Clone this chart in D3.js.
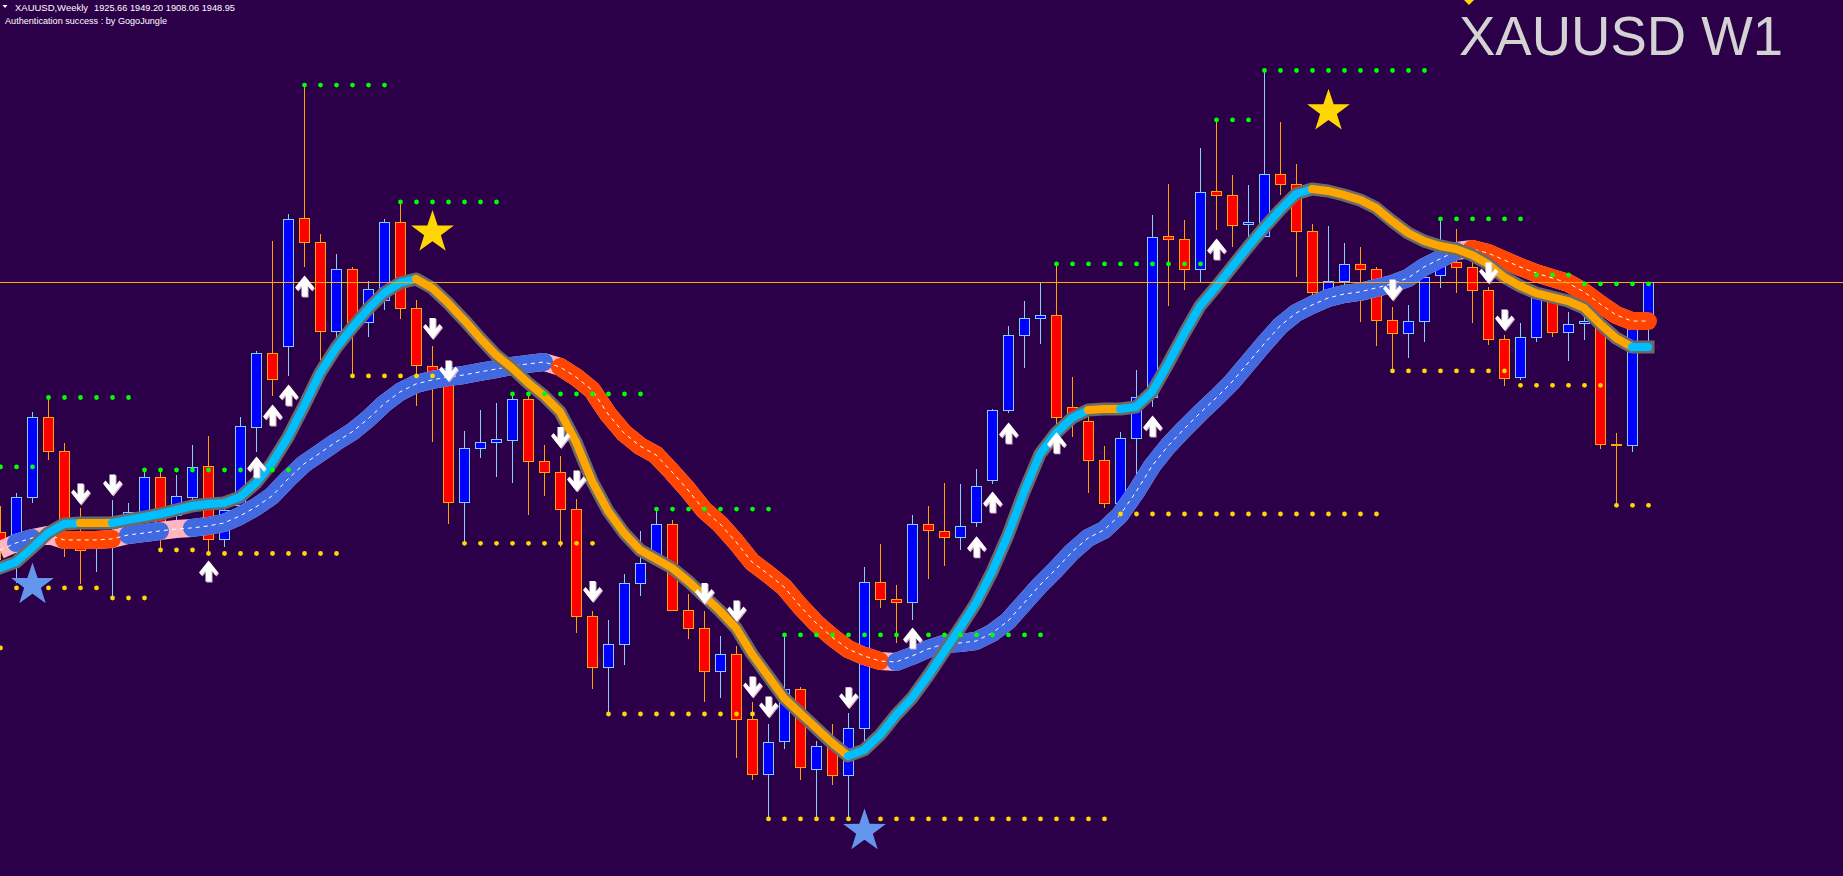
<!DOCTYPE html>
<html><head><meta charset="utf-8">
<script src="https://cdn.jsdelivr.net/npm/d3@7"></script>
<style>html,body{margin:0;padding:0;background:#2c0048;overflow:hidden}svg{display:block}</style>
</head><body>
<svg id="chart" width="1843" height="876"></svg>
<script>
// ---------- data ----------
const symbolTitle = "XAUUSD,Weekly";
const ohlcTitle = "1925.66 1949.20 1908.06 1948.95";
const authText = "Authentication success : by GogoJungle";
const bigTitle = "XAUUSD W1";
const bidPrice = 1948.95;

const opens = [1792.9,1787.9,1814.7,1864.7,1843.5,1789.7,1782.9,1784.7,1800.4,1805.4,
1827.2,1803.5,1814.7,1834.1,1788.5,1809.7,1858.5,1904.7,1909.1,1989.1,
1974.1,1918.5,1957.2,1924.1,1937.9,1986.6,1932.9,1896.6,1891.0,1811.6,
1845.4,1849.1,1850.4,1876.0,1837.2,1830.4,1807.2,1740.4,1708.5,1722.9,
1761.0,1773.5,1797.9,1744.1,1732.9,1706.0,1716.6,1676.0,1641.6,1662.2,
1694.7,1644.7,1658.5,1641.0,1670.4,1761.6,1751.0,1749.1,1797.9,1793.5,
1789.7,1799.1,1825.4,1869.1,1916.0,1926.6,1928.5,1871.0,1862.2,1837.9,
1811.0,1851.6,1877.2,1977.9,1976.0,1957.2,2006.0,2003.5,1985.4,1977.9,
2016.6,2010.4,1981.0,1942.9,1949.7,1960.4,1957.2,1925.4,1917.2,1924.7,
1953.5,1961.6,1958.5,1944.1,1913.5,1889.7,1914.7,1937.9,1917.9,1923.5,
1923.5,1847.9,1847.2,1925.66];
const highs = [1809.1,1817.2,1867.9,1877.2,1848.5,1807.9,1791.0,1812.9,1811.0,1831.6,
1830.4,1828.5,1847.2,1852.9,1812.9,1864.7,1906.0,1974.7,1991.6,2072.2,
1979.1,1966.6,1958.5,1949.7,1988.5,1998.5,1937.9,1909.1,1893.0,1856.0,
1869.1,1873.5,1879.1,1879.1,1847.2,1840.4,1813.5,1743.5,1737.9,1766.6,
1793.5,1807.2,1800.4,1754.1,1743.5,1727.9,1721.6,1686.6,1672.9,1728.5,
1696.0,1662.2,1672.9,1679.7,1771.0,1785.4,1759.7,1803.5,1809.1,1823.5,
1822.9,1832.2,1869.7,1921.6,1937.2,1949.1,1959.7,1889.7,1871.6,1846.6,
1855.4,1894.1,1991.0,2010.4,1987.9,2032.9,2050.4,2016.0,2009.7,2081.0,
2049.1,2022.9,1985.4,1984.1,1973.5,1971.0,1958.5,1933.5,1934.7,1956.6,
1989.1,1982.2,1972.2,1946.0,1916.0,1923.5,1944.1,1942.9,1930.4,1931.6,
1926.6,1854.7,1925.4,1949.20];
const lows = [1775.4,1761.0,1811.0,1837.9,1777.2,1760.4,1767.9,1751.6,1797.2,1800.4,
1781.6,1800.4,1809.7,1778.5,1783.5,1803.5,1842.9,1877.9,1890.4,1958.5,
1900.4,1913.5,1890.4,1914.7,1931.6,1926.0,1871.6,1849.1,1797.9,1785.4,
1839.1,1827.2,1823.5,1803.5,1815.4,1783.5,1729.7,1694.7,1679.1,1709.7,
1752.9,1771.6,1743.5,1726.0,1686.6,1689.1,1651.6,1637.9,1613.5,1657.2,
1637.9,1613.5,1634.7,1614.7,1661.6,1745.4,1723.5,1737.9,1763.5,1771.6,
1781.6,1796.0,1822.9,1867.2,1895.4,1910.4,1860.4,1852.2,1817.2,1807.9,
1805.4,1827.2,1871.0,1934.1,1944.1,1949.1,1981.6,1971.0,1975.4,1977.2,
2003.5,1952.2,1937.9,1934.7,1945.4,1924.1,1909.1,1893.5,1901.6,1911.6,
1945.4,1942.2,1923.5,1909.7,1884.1,1887.9,1911.6,1914.7,1899.7,1912.9,
1844.7,1809.7,1842.9,1908.06];
const closes = [1782.9,1814.7,1864.7,1843.5,1797.2,1781.6,1787.9,1794.1,1805.4,1827.2,
1794.1,1815.4,1833.5,1788.5,1806.6,1859.1,1904.7,1888.5,1988.5,1974.1,
1918.5,1957.2,1924.1,1944.7,1986.6,1932.9,1897.2,1891.0,1811.6,1845.4,
1849.1,1851.0,1876.0,1837.2,1830.4,1807.2,1740.4,1708.5,1722.9,1761.0,
1773.5,1797.9,1744.1,1732.9,1706.0,1716.6,1676.0,1641.6,1661.6,1694.7,
1646.0,1659.1,1641.0,1670.4,1761.6,1751.0,1749.1,1797.9,1794.1,1789.7,
1796.6,1821.6,1869.1,1916.0,1926.6,1928.5,1864.7,1866.0,1837.9,1811.0,
1851.6,1877.2,1977.2,1976.0,1957.2,2005.4,2003.5,1984.7,1986.6,2016.6,
2010.4,1981.0,1942.9,1949.7,1960.4,1957.2,1925.4,1917.2,1924.7,1952.2,
1961.6,1958.5,1944.1,1913.5,1889.1,1914.7,1939.7,1917.9,1922.9,1924.7,
1847.9,1847.2,1925.4,1948.95];

// fast trend line (cyan up / orange down)
const fastLine = [1770.4,1774.1,1782.9,1792.2,1797.9,1798.5,1798.5,1798.5,1800.4,1802.2,
1804.1,1806.6,1809.1,1810.4,1811.0,1814.7,1823.5,1836.0,1852.2,1871.6,
1892.2,1907.9,1920.4,1932.2,1942.2,1948.5,1951.0,1945.4,1936.0,1925.4,
1914.1,1903.5,1895.4,1886.0,1877.9,1867.9,1849.1,1824.7,1806.0,1792.2,
1781.6,1776.0,1770.4,1762.2,1752.9,1743.5,1732.9,1716.6,1702.9,1689.1,
1679.7,1670.4,1661.0,1652.9,1656.6,1666.0,1678.5,1689.1,1702.9,1717.9,
1732.9,1748.5,1767.9,1791.0,1817.9,1841.6,1854.7,1864.1,1869.1,1869.7,
1869.7,1871.0,1880.4,1897.9,1916.6,1934.1,1946.0,1958.5,1971.0,1982.9,
1994.1,2004.1,2007.2,2006.0,2003.5,2000.4,1995.4,1987.2,1979.7,1974.7,
1971.6,1969.7,1966.0,1960.4,1952.2,1946.6,1942.2,1939.7,1937.2,1932.9,
1922.9,1914.1,1908.5,1908.5];
// slow trend line (royal blue up / orange-red down)
const slowLine = [1781.6,1786.0,1789.1,1791.0,1787.9,1787.9,1787.9,1788.5,1791.0,1792.2,
1793.5,1794.7,1795.4,1796.6,1798.5,1802.9,1808.5,1815.4,1826.0,1835.4,
1842.2,1849.1,1855.4,1863.5,1872.9,1880.4,1885.4,1887.9,1889.7,1891.0,
1892.9,1894.7,1896.6,1897.9,1899.1,1896.0,1889.7,1881.6,1866.6,1854.7,
1846.6,1841.0,1830.4,1819.1,1806.6,1797.9,1786.6,1774.1,1766.6,1758.5,
1746.6,1736.0,1727.2,1719.7,1715.4,1712.2,1711.6,1715.4,1719.7,1722.9,
1723.5,1724.7,1729.7,1737.2,1748.5,1759.7,1769.7,1780.4,1789.1,1794.1,
1803.5,1817.9,1834.1,1846.6,1857.2,1867.2,1876.6,1886.6,1898.5,1910.4,
1921.6,1929.7,1934.7,1939.1,1941.6,1942.9,1945.4,1947.9,1951.6,1958.5,
1963.5,1968.5,1969.7,1967.2,1962.9,1958.5,1954.7,1951.6,1948.5,1942.9,
1935.4,1928.5,1924.7,1924.7];
// [fromBar, toBar, state] state: 1 up, -1 down
const fastRuns = [[0,5,1],[5,7,-1],[7,26,1],[26,53,-1],[53,68,1],[68,70,-1],[70,82,1],[82,102,-1],[102,103,1]];
const slowRuns = [[1,2,1],[4,7,-1],[8,10,1],[12,34,1],[35,55,-1],[56,91,1],[92,103,-1]];

// dotted levels [fromBar, toBar, price]
const resistanceLevels = [[0,2,1833.5],[3,8,1876.9],[9,18,1831.6],[19,24,2072.2],[25,31,1999.1],[32,40,1879.1],
  [41,48,1807.2],[49,65,1728.5],[66,75,1960.4],[76,78,2050.4],[79,89,2081.3],[90,95,1988.5],[96,98,1953.5],[99,103,1947.9]];
const supportLevels = [[0,0,1720.4],[1,6,1757.9],[7,9,1751.6],[10,12,1781.6],[13,21,1779.4],[22,27,1890.4],[29,37,1785.8],
  [38,47,1679.1],[48,69,1613.5],[70,86,1804.1],[87,94,1893.5],[95,100,1884.5],[101,103,1809.5]];

// signal arrows [bar, price]
const upArrows = [[13,1768.5],[16,1833.5],[17,1866.0],[18,1878.5],[19,1946.6],[57,1726.6],[61,1783.7],[62,1811.6],[63,1854.7],[66,1848.7],[72,1859.1],[76,1969.7]];
const downArrows = [[5,1816.6],[7,1822.2],[27,1920.0],[28,1893.5],[35,1851.9],[36,1824.7],[37,1755.7],[44,1754.4],[46,1743.5],[47,1696.0],[48,1683.5],[53,1689.3],[87,1944.1],[93,1954.7],[94,1925.4]];
// swing stars [bar, price]
const topStars = [[27,1980.0],[83,2055.8]];
const bottomStars = [[2,1759.7],[54,1606.0]];
const edgeMarks = [[92,2125.35]];

// ---------- drawing ----------
const W = 1843, H = 876;
const C = {bg:"#2c0048", bullBody:"#0000ff", bullEdge:"#87cefa", bearBody:"#ff0000", bearEdge:"#ffa500",
  fastUp:"#00bfff", fastDn:"#ffa500", fastOutline:"#6b6b6b", slowUp:"#4169e1", slowDn:"#ff4500", slowNeutral:"#ffb6c1",
  res:"#00ff00", sup:"#ffd700", starTop:"#ffd700", starBot:"#6495ed", bid:"#ffaa00", text:"#ffffff", big:"#d3d3d3"};

const svg = d3.select("#chart");
svg.append("rect").attr("width", W).attr("height", H).attr("fill", C.bg);

const x = d3.scaleLinear().domain([0, 103]).range([0, 1648]);
const y = d3.scaleLinear().domain([2125.35, 1577.85]).range([0, 876]);

const candles = opens.map((o, i) => ({i, o, h: highs[i], l: lows[i], c: closes[i], up: closes[i] >= o}));

// candles
const gC = svg.append("g").attr("shape-rendering", "crispEdges");
gC.selectAll("line").data(candles).join("line")
  .attr("x1", d => Math.round(x(d.i)) + 0.5).attr("x2", d => Math.round(x(d.i)) + 0.5)
  .attr("y1", d => Math.round(y(d.h))).attr("y2", d => Math.round(y(d.l)))
  .attr("stroke", d => d.up ? C.bullEdge : C.bearEdge).attr("stroke-width", 1);
gC.selectAll("rect").data(candles).join("rect")
  .attr("x", d => Math.round(x(d.i)) - 4.5).attr("width", 10)
  .attr("y", d => Math.round(Math.min(y(d.o), y(d.c))) + 0.5)
  .attr("height", d => Math.max(1, Math.round(Math.abs(y(d.o) - y(d.c)))))
  .attr("fill", d => d.up ? C.bullBody : C.bearBody)
  .attr("stroke", d => d.up ? C.bullEdge : C.bearEdge).attr("stroke-width", 1);

// slow band
const lineOf = vals => d3.line().x(i => x(i)).y(i => y(vals[i]));
const slowGen = lineOf(slowLine), fastGen = lineOf(fastLine);
const gS = svg.append("g").attr("fill", "none");
gS.append("path").attr("d", slowGen(d3.range(slowLine.length)))
  .attr("stroke", C.slowNeutral).attr("stroke-width", 18).attr("stroke-linejoin", "round");
gS.selectAll("path.run").data(slowRuns).join("path").attr("class", "run")
  .attr("d", r => slowGen(d3.range(r[0], r[1] + 1)))
  .attr("stroke", r => r[2] > 0 ? C.slowUp : C.slowDn).attr("stroke-width", 18)
  .attr("stroke-linecap", "round").attr("stroke-linejoin", "round");
gS.append("path").attr("d", slowGen(d3.range(slowLine.length)))
  .attr("stroke", "#ffffff").attr("stroke-width", 1).attr("stroke-dasharray", "4,4");

// fast band
const gF = svg.append("g").attr("fill", "none");
gF.append("path").attr("d", fastGen(d3.range(fastLine.length)))
  .attr("stroke", C.fastOutline).attr("stroke-width", 13).attr("stroke-linecap", "square").attr("stroke-linejoin", "round");
gF.selectAll("path.run").data(fastRuns).join("path").attr("class", "run")
  .attr("d", r => fastGen(d3.range(r[0], r[1] + 1)))
  .attr("stroke", r => r[2] > 0 ? C.fastUp : C.fastDn).attr("stroke-width", 8)
  .attr("stroke-linecap", "round").attr("stroke-linejoin", "round");

// bid line
svg.append("line").attr("x1", 0).attr("x2", W)
  .attr("y1", Math.round(y(bidPrice)) + 0.5).attr("y2", Math.round(y(bidPrice)) + 0.5)
  .attr("stroke", C.bid).attr("stroke-width", 1).attr("shape-rendering", "crispEdges");

// dotted levels
function levelDots(levels) {
  return levels.flatMap(([a, b, p]) => d3.range(a, b + 1).map(i => ({i, p})));
}
const gD = svg.append("g");
gD.selectAll("circle.res").data(levelDots(resistanceLevels)).join("circle").attr("class", "res")
  .attr("cx", d => x(d.i) + 0.5).attr("cy", d => y(d.p)).attr("r", 2.4).attr("fill", C.res);
gD.selectAll("circle.sup").data(levelDots(supportLevels)).join("circle").attr("class", "sup")
  .attr("cx", d => x(d.i) + 0.5).attr("cy", d => y(d.p)).attr("r", 2.4).attr("fill", C.sup);

// arrows
const downShape = [[-3,-10.5],[3,-10.5],[3,0.5],[7,-4.5],[9.5,-1.5],[0,10.5],[-9.5,-1.5],[-7,-4.5],[-3,0.5]];
const upShape = downShape.map(([a, b]) => [a, -b]);
const poly = pts => "M" + pts.map(p => p.join(",")).join("L") + "Z";
const gA = svg.append("g");
function drawArrows(list, shape) {
  const sel = gA.selectAll(null).data(list).enter();
  sel.append("path").attr("d", poly(shape))
    .attr("transform", d => `translate(${x(d[0]) + 1.5},${y(d[1]) + 1})`).attr("fill", "#d9b3c6");
  sel.append("path").attr("d", poly(shape))
    .attr("transform", d => `translate(${x(d[0]) + 0.5},${y(d[1])})`).attr("fill", "#ffffff");
}
drawArrows(upArrows, upShape);
drawArrows(downArrows, downShape);

// stars
function starPath(R, r) {
  const pts = d3.range(10).map(k => {
    const ang = -Math.PI / 2 + k * Math.PI / 5, rad = k % 2 ? r : R;
    return [rad * Math.cos(ang), rad * Math.sin(ang)];
  });
  return poly(pts.map(p => p.map(v => v.toFixed(2))));
}
const gSt = svg.append("g");
gSt.selectAll("path.top").data(topStars).join("path").attr("class", "top")
  .attr("d", starPath(22.5, 8.8)).attr("fill", C.starTop)
  .attr("transform", d => `translate(${x(d[0]) + 0.5},${y(d[1])})`);
gSt.selectAll("path.bot").data(bottomStars).join("path").attr("class", "bot")
  .attr("d", starPath(22.5, 8.8)).attr("fill", C.starBot)
  .attr("transform", d => `translate(${x(d[0]) + 0.5},${y(d[1])})`);
gSt.selectAll("path.edge").data(edgeMarks).join("path").attr("class", "edge")
  .attr("d", poly([[0,-5],[5,0],[0,5],[-5,0]])).attr("fill", C.starTop)
  .attr("transform", d => `translate(${x(d[0]) - 3},${y(d[1])})`);

// texts
svg.append("path").attr("d", poly([[2.5,5],[7.5,5],[5,8]])).attr("fill", C.text);
svg.append("text").attr("x", 15).attr("y", 10.5).text(symbolTitle)
  .attr("font-family", "Liberation Sans, Arial, sans-serif").attr("font-size", 9.5).attr("fill", C.text)
  .attr("textLength", 73).attr("lengthAdjust", "spacingAndGlyphs");
svg.append("text").attr("x", 94).attr("y", 10.5).text(ohlcTitle)
  .attr("font-family", "Liberation Sans, Arial, sans-serif").attr("font-size", 9.5).attr("fill", C.text)
  .attr("textLength", 141).attr("lengthAdjust", "spacingAndGlyphs");
svg.append("text").attr("x", 5).attr("y", 23.5).text(authText)
  .attr("font-family", "Liberation Sans, Arial, sans-serif").attr("font-size", 9.5).attr("fill", C.text)
  .attr("textLength", 162).attr("lengthAdjust", "spacingAndGlyphs");
svg.append("text").attr("x", 1459).attr("y", 55).text(bigTitle)
  .attr("font-family", "Liberation Sans, Arial, sans-serif").attr("font-size", 55).attr("fill", C.big)
  .attr("textLength", 324).attr("lengthAdjust", "spacingAndGlyphs");
</script>
</body></html>
